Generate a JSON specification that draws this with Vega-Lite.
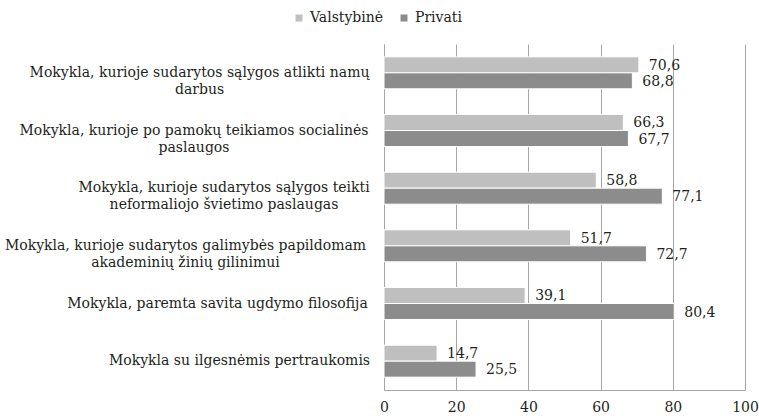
{
  "$schema": "https://vega.github.io/schema/vega-lite/v6.json",
  "width": 361,
  "height": 346,
  "autosize": {"type": "none"},
  "padding": {"left": 384, "top": 44, "right": 14, "bottom": 29},
  "config": {
    "locale": {"number": {"decimal": ",", "thousands": " ", "grouping": [3], "currency": ["", ""]}},
    "view": {"stroke": null},
    "font": "DejaVu Serif",
    "text": {"color": "#231f20"}
  },
  "data": {
    "values": [
      {"category": "Mokykla, kurioje sudarytos sąlygos atlikti namų\ndarbus", "type": "Valstybinė", "value": 70.6},
      {"category": "Mokykla, kurioje sudarytos sąlygos atlikti namų\ndarbus", "type": "Privati", "value": 68.8},
      {"category": "Mokykla, kurioje po pamokų teikiamos socialinės\npaslaugos", "type": "Valstybinė", "value": 66.3},
      {"category": "Mokykla, kurioje po pamokų teikiamos socialinės\npaslaugos", "type": "Privati", "value": 67.7},
      {"category": "Mokykla, kurioje sudarytos sąlygos teikti\nneformaliojo švietimo paslaugas", "type": "Valstybinė", "value": 58.8},
      {"category": "Mokykla, kurioje sudarytos sąlygos teikti\nneformaliojo švietimo paslaugas", "type": "Privati", "value": 77.1},
      {"category": "Mokykla, kurioje sudarytos galimybės papildomam\nakademinių žinių gilinimui", "type": "Valstybinė", "value": 51.7},
      {"category": "Mokykla, kurioje sudarytos galimybės papildomam\nakademinių žinių gilinimui", "type": "Privati", "value": 72.7},
      {"category": "Mokykla, paremta savita ugdymo filosofija", "type": "Valstybinė", "value": 39.1},
      {"category": "Mokykla, paremta savita ugdymo filosofija", "type": "Privati", "value": 80.4},
      {"category": "Mokykla su ilgesnėmis pertraukomis", "type": "Valstybinė", "value": 14.7},
      {"category": "Mokykla su ilgesnėmis pertraukomis", "type": "Privati", "value": 25.5}
    ]
  },
  "encoding": {
    "y": {
      "field": "category",
      "type": "nominal",
      "sort": null,
      "scale": {"paddingInner": 0.445, "paddingOuter": 0.2225},
      "axis": {
        "title": null,
        "domain": true,
        "domainColor": "#a6a6a6",
        "domainWidth": 1,
        "ticks": false,
        "tickSize": 0,
        "grid": false,
        "labelAlign": "center",
        "labelBaseline": "middle",
        "labelFont": "DejaVu Serif",
        "labelFontSize": 14,
        "labelLineHeight": 17,
        "labelColor": "#231f20",
        "labelLimit": 500,
        "labelExpr": "split(datum.label, '\\n')",
        "labelPadding": {"expr": "indexof(datum.value, 'namų') >= 0 ? 185 : indexof(datum.value, 'socialinės') >= 0 ? 190.5 : indexof(datum.value, 'neformaliojo') >= 0 ? 160.5 : indexof(datum.value, 'akademinių') >= 0 ? 199 : indexof(datum.value, 'filosofija') >= 0 ? 167 : 145"}
      }
    },
    "yOffset": {"field": "type", "type": "nominal", "sort": ["Valstybinė", "Privati"]},
    "x": {
      "field": "value",
      "type": "quantitative",
      "scale": {"domain": [0, 100], "nice": false},
      "axis": {
        "title": null,
        "values": [0, 20, 40, 60, 80, 100],
        "grid": true,
        "gridColor": "#a6a6a6",
        "gridWidth": 1,
        "domain": true,
        "domainColor": "#a6a6a6",
        "ticks": false,
        "tickSize": 0,
        "labelFont": "DejaVu Serif",
        "labelFontSize": 14,
        "labelColor": "#231f20",
        "labelPadding": 10,
        "labelFlush": false,
        "format": "d"
      }
    }
  },
  "layer": [
    {
      "mark": {"type": "bar", "stroke": "white", "strokeWidth": 1},
      "encoding": {
        "color": {
          "field": "type",
          "type": "nominal",
          "scale": {"domain": ["Valstybinė", "Privati"], "range": ["#bfbfbf", "#8c8c8c"]},
          "legend": {
            "title": null,
            "orient": "none",
            "legendX": -92,
            "legendY": -33,
            "direction": "horizontal",
            "symbolType": "square",
            "symbolSize": 49,
            "symbolStrokeWidth": 0,
            "labelFont": "DejaVu Serif",
            "labelFontSize": 14,
            "labelColor": "#231f20",
            "labelOffset": 4,
            "columnPadding": 13,
            "padding": 0
          }
        }
      }
    },
    {
      "mark": {"type": "text", "align": "left", "baseline": "middle", "dx": 10, "dy": 1, "fontSize": 14, "font": "DejaVu Serif", "color": "#231f20"},
      "encoding": {
        "text": {"field": "value", "type": "quantitative", "format": ".1f"}
      }
    }
  ]
}
